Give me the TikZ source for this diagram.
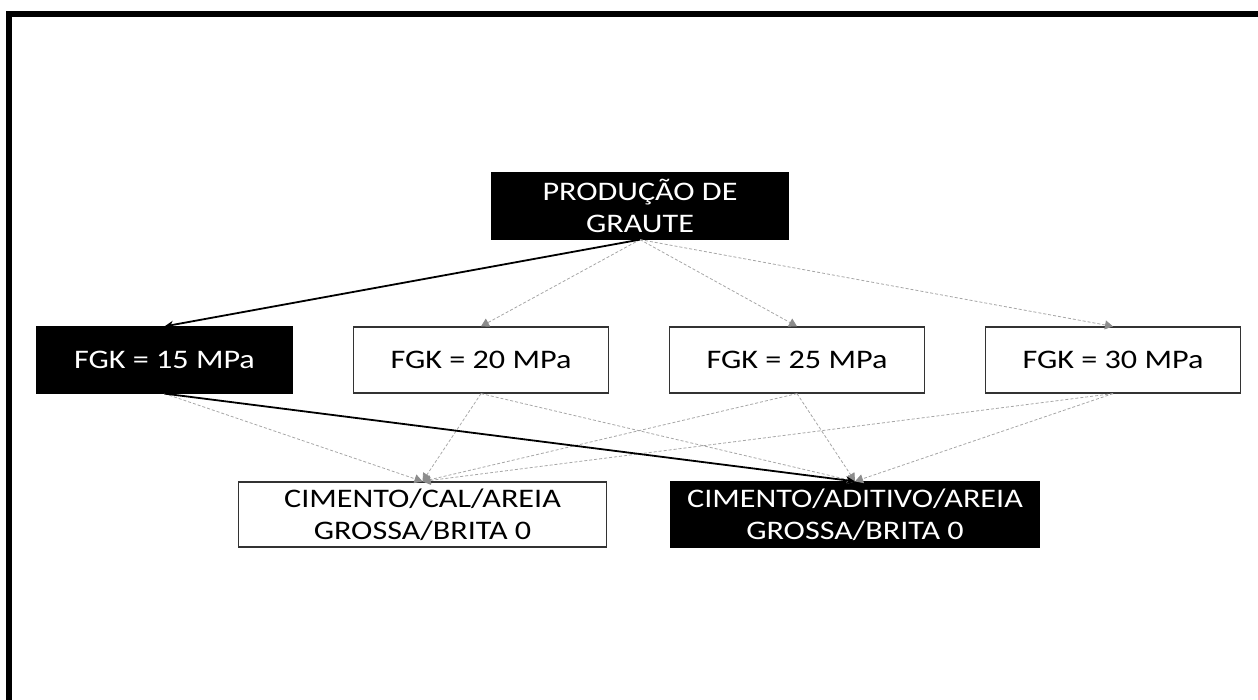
\documentclass[tikz,border=0pt]{standalone}
\usepackage{fontspec}
\setmainfont{Carlito}[FakeStretch=1.2]
\usetikzlibrary{arrows.meta}
\tikzset{
  box/.style={draw=black!80, line width=1.2pt, fill=white, text=black, inner sep=0pt, align=center,
              font=\fontsize{26.8}{32}\selectfont},
  blk/.style={box, draw=black, fill=black, text=white},
  lvtwo/.style={minimum width=255pt, minimum height=66pt},
  lvthree/.style={minimum width=368pt, minimum height=65pt},
  faint/.style={draw=black!35, line width=0.8pt, dash pattern=on 3pt off 2pt,
                -{Triangle[length=8pt,width=9pt,color=black!45]}},
  strong/.style={draw=black, line width=1.8pt, -{Stealth[length=9pt,width=8pt]}},
  frame/.style={line width=6pt, line join=miter}
}
\begin{document}
\begin{tikzpicture}[x=1pt,y=-1pt]
\useasboundingbox (0,0) rectangle (1258,700);
\draw[frame] (1258,14) -- (9,14) -- (9,700);

\node[blk, minimum width=296pt, minimum height=66pt] (top) at (640,206) {PRODUÇÃO DE\\GRAUTE};

\node[blk, lvtwo] (f15) at (164.5,360) {FGK = 15 MPa};
\node[box, lvtwo] (f20) at (481,360) {FGK = 20 MPa};
\node[box, lvtwo] (f25) at (797,360) {FGK = 25 MPa};
\node[box, lvtwo] (f30) at (1113,360) {FGK = 30 MPa};

\node[box, lvthree] (cal) at (422.5,514.5) {CIMENTO/CAL/AREIA\\GROSSA/BRITA 0};
\node[blk, lvthree] (adt) at (855,514.5) {CIMENTO/ADITIVO/AREIA\\GROSSA/BRITA 0};

\draw[faint] (top.south) -- (f20.north);
\draw[faint] (top.south) -- (f25.north);
\draw[faint] (top.south) -- (f30.north);

\draw[faint] (f15.south) -- (cal.north);
\draw[faint] (f20.south) -- (cal.north);
\draw[faint] (f20.south) -- (adt.north);
\draw[faint] (f25.south) -- (cal.north);
\draw[faint] (f25.south) -- (adt.north);
\draw[faint] (f30.south) -- (cal.north);
\draw[faint] (f30.south) -- (adt.north);

\draw[strong] (top.south) -- (f15.north);
\draw[strong] (f15.south) -- (adt.north);
\end{tikzpicture}
\end{document}
